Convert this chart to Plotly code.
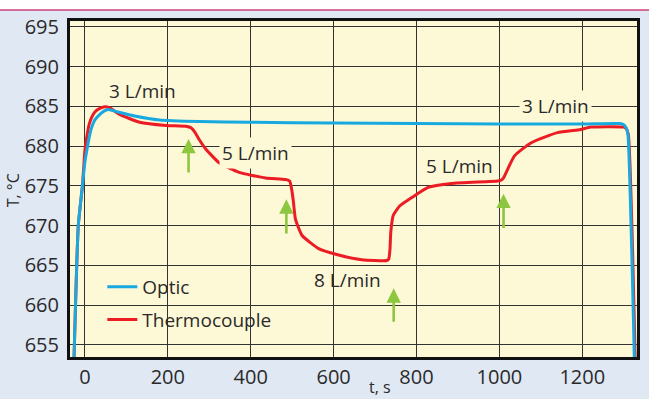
import plotly.graph_objects as go

# ---- data ----
optic_t = [-28, -16, -6, 0, 6.4, 12, 16, 24, 36, 46, 56, 80, 120, 180, 276, 400, 600, 800,
           1000, 1200, 1290, 1300, 1306, 1310, 1327]
optic_T = [650.0, 670.0, 675.0, 678.0, 680.0, 681.5, 682.3, 683.3, 684.0, 684.4, 684.6, 684.3,
           683.8, 683.3, 683.1, 683.0, 682.9, 682.85, 682.8, 682.8, 682.85, 682.7, 682.3,
           681.5, 650.0]

thermo_t = [-28, -16, -6, 0, 4, 10, 16, 24, 36, 48, 60, 84, 132, 196, 244, 256, 266, 276,
            292, 324, 372, 436, 484, 494, 499, 503, 508, 524, 564, 612, 668, 728, 733,
            736, 738, 744, 760, 788, 828, 884, 996, 1004, 1010, 1036, 1076, 1140, 1196,
            1220, 1300, 1306, 1311, 1329]
thermo_T = [650.0, 670.0, 675.0, 679.5, 681.0, 682.7, 683.6, 684.3, 684.75, 684.95, 684.8,
            684.0, 683.0, 682.6, 682.5, 682.3, 681.7, 680.8, 679.6, 677.9, 676.7, 676.0,
            675.8, 675.6, 674.5, 673.0, 670.8, 668.75, 667.1, 666.3, 665.7, 665.6, 665.8,
            667.0, 669.2, 671.3, 672.5, 673.5, 674.8, 675.3, 675.6, 675.7, 676.0, 678.75,
            680.4, 681.7, 682.1, 682.4, 682.4, 682.2, 681.5, 650.0]

flow_labels = ["3 L/min", "5 L/min", "8 L/min", "5 L/min", "3 L/min"]
flow_t = [140, 412, 634, 904, 1136]
flow_T = [687.0, 679.1, 663.1, 677.5, 685.0]
flow_bg = [False, True, False, False, True]

arrow_t = [250, 486, 745, 1010]
arrow_T0 = [676.5, 668.8, 657.7, 669.5]
arrow_T1 = [680.9, 673.3, 662.1, 674.0]

x_ticks = [0, 200, 400, 600, 800, 1000, 1200]
y_ticks = [655, 660, 665, 670, 675, 680, 685, 690, 695]

FONT = "Open Sans"
TXT = "#2a2a2a"
PLOT_BG = "#fdf8d6"
PAPER_BG = "#e0e8f4"
BLUE = "#19a9e1"
RED = "#ec1c24"
GREEN = "#8dc63f"

fig = go.Figure()
fig.add_trace(go.Scatter(x=thermo_t, y=thermo_T, mode="lines", name="Thermocouple",
                         line=dict(color=RED, width=3, shape="spline", smoothing=0.5),
                         legendrank=2, legendgroup="b"))
fig.add_trace(go.Scatter(x=optic_t, y=optic_T, mode="lines", name="Optic",
                         line=dict(color=BLUE, width=3, shape="spline", smoothing=0.5),
                         legendrank=1, legendgroup="a"))

for lab, t, T, bg in zip(flow_labels, flow_t, flow_T, flow_bg):
    fig.add_annotation(x=t, y=T, xref="x", yref="y", text=lab, showarrow=False,
                       font=dict(family=FONT, size=19, color=TXT),
                       bgcolor=PLOT_BG if bg else "rgba(0,0,0,0)", borderpad=2)

for t, T0, T1 in zip(arrow_t, arrow_T0, arrow_T1):
    fig.add_annotation(x=t, y=T1, ax=t, ay=T0, xref="x", yref="y", axref="x", ayref="y",
                       text="", showarrow=True, arrowhead=2, arrowsize=1.1,
                       arrowwidth=2.6, arrowcolor=GREEN, standoff=0)

# axis titles
fig.add_annotation(x=-0.1, y=0.497, xref="paper", yref="paper", text="T, °C",
                   textangle=-90, showarrow=False, xanchor="center", yanchor="middle",
                   font=dict(family=FONT, size=16, color=TXT))
fig.add_annotation(x=0.546, y=-0.088, xref="paper", yref="paper", text="t, s",
                   showarrow=False, xanchor="center", yanchor="middle",
                   font=dict(family=FONT, size=16, color=TXT))

# top white band and pink rule
fig.add_shape(type="rect", xref="paper", yref="paper", x0=-0.2, x1=1.1, y0=1.0325, y1=1.07,
              fillcolor="white", line_width=0, layer="above")
fig.add_shape(type="line", xref="paper", yref="paper", x0=-0.2, x1=1.1, y0=1.0325, y1=1.0325,
              line=dict(color="#cc3f7d", width=1.5), layer="above")

fig.update_xaxes(range=[-36, 1332], tickvals=x_ticks, showgrid=True, gridcolor="#333333",
                 gridwidth=1.4, zeroline=False, showline=True, linecolor="#111", linewidth=3,
                 mirror=True, ticks="", tickfont=dict(family=FONT, size=20, color=TXT))
fig.update_yaxes(range=[653.46, 695.75], tickvals=y_ticks, showgrid=True, gridcolor="#333333",
                 gridwidth=1.4, zeroline=False, showline=True, linecolor="#111", linewidth=3,
                 mirror=True, ticks="", ticklabelstandoff=4,
                 tickfont=dict(family=FONT, size=20, color=TXT))

fig.update_layout(
    width=649, height=399,
    margin=dict(l=70, r=9, t=21, b=40),
    paper_bgcolor=PAPER_BG, plot_bgcolor=PLOT_BG,
    showlegend=True,
    legend=dict(x=0.057, y=0.265, xanchor="left", yanchor="top", bgcolor="rgba(0,0,0,0)",
                traceorder="grouped", tracegroupgap=5,
                font=dict(family=FONT, size=19, color=TXT)),
)

fig.write_html("out.html")
